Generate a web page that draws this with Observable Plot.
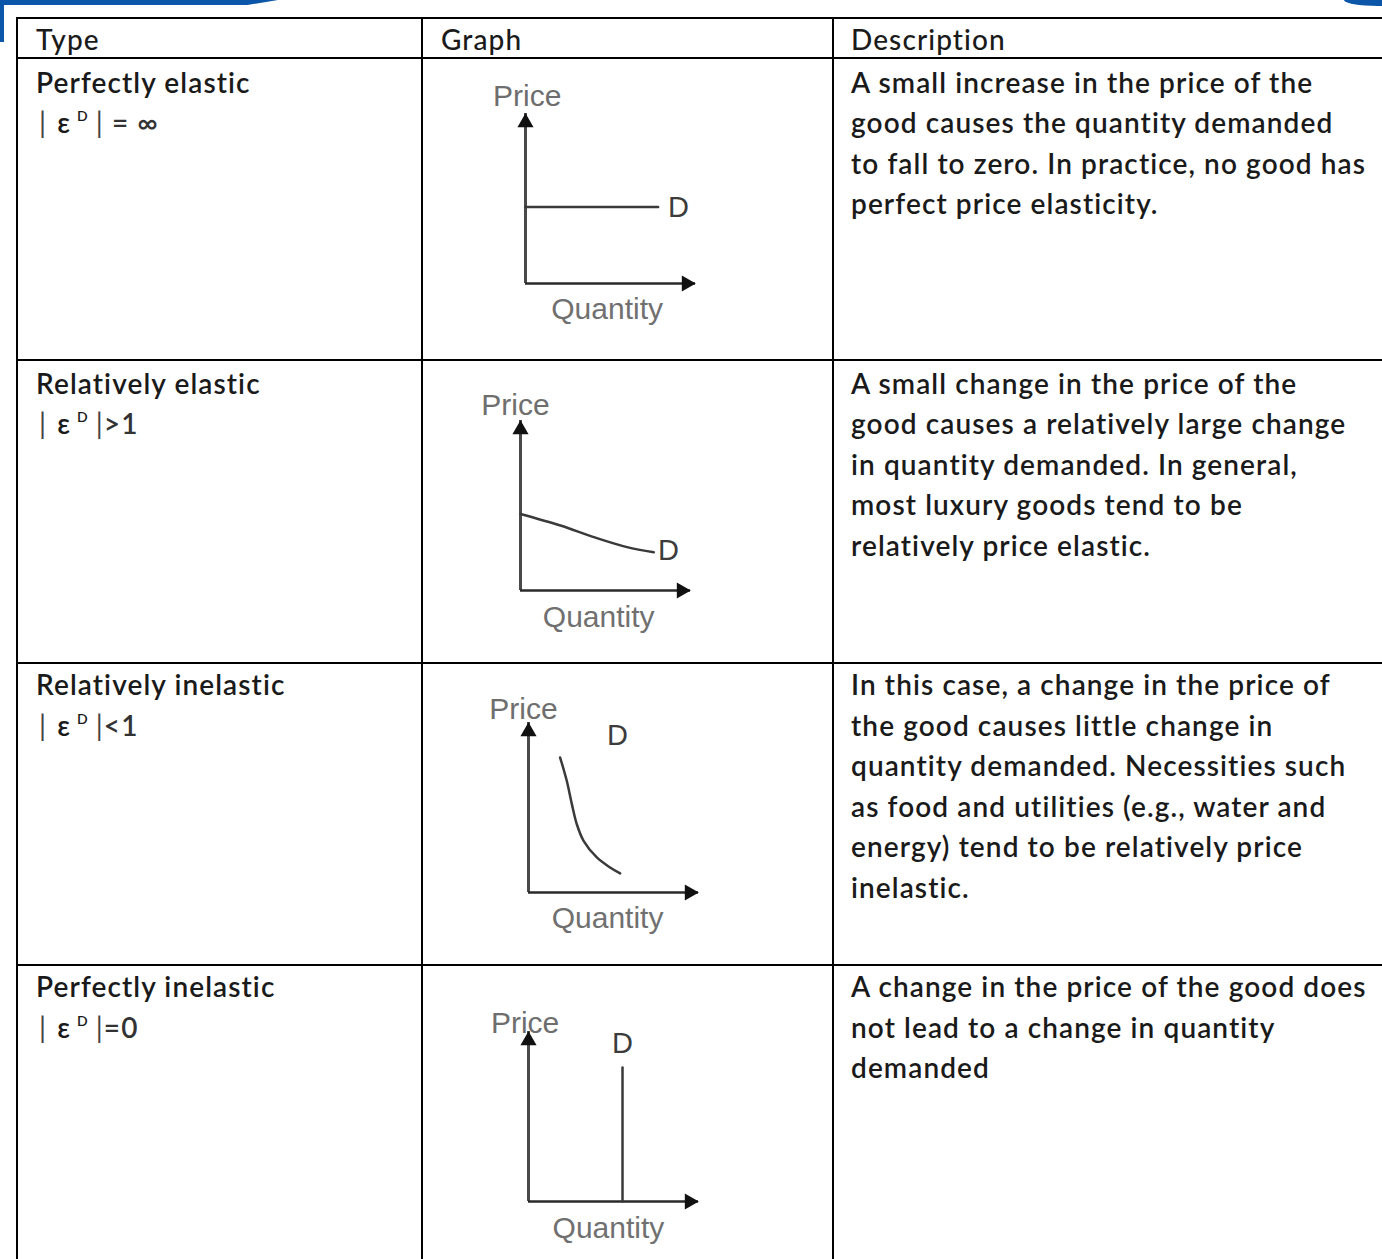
<!DOCTYPE html>
<html>
<head>
<meta charset="utf-8">
<script src="https://cdn.jsdelivr.net/npm/d3@7"></script>
<script src="https://cdn.jsdelivr.net/npm/@observablehq/plot@0.6"></script>
<style>
html, body { margin: 0; padding: 0; background: #fff; }
body { width: 1382px; height: 1259px; overflow: hidden; position: relative;
       font-family: Lato, "Noto Sans", sans-serif; color: #1a1a1a; }
.blue-tl { position: absolute; left: 0; top: 0; width: 278px; height: 5px; background: #0b56a8;
           clip-path: polygon(0 0, 100% 0, 89% 100%, 0 100%); }
.blue-left { position: absolute; left: 0; top: 0; width: 4px; height: 42px; background: #0b56a8; }
.blue-tr { position: absolute; right: 0; top: 0; width: 38px; height: 6px; background: #0b56a8;
           border-bottom-left-radius: 34px 6px; }
#table { position: absolute; left: 16px; top: 17px; display: grid;
         grid-template-columns: 405px 411px 590px;
         grid-template-rows: 40px 302px 303px 302px 330px; }
.cell { box-sizing: border-box; border-left: 2px solid #000; border-top: 2px solid #000;
        font-size: 28px; font-weight: 600; letter-spacing: 1.1px; line-height: 40.6px; white-space: nowrap; }
.c1 { padding-left: 18px; }
.c2 { padding-left: 18px; }
.c3 { padding-left: 17px; }
.head { line-height: 38px; padding-top: 1px; font-weight: 500; }
.cond { padding-left: 3px; }
.cond .bar { color: #444; font-weight: 400; }
.cond .eps { margin-left: 10px; }
.cond sup { font-size: 14px; vertical-align: 12px; line-height: 0; margin-left: 6px; margin-right: 7px; }
.cond .rest { color: #333; }
.graph { position: absolute; left: 423px; }
</style>
</head>
<body>
<div class="blue-tl"></div>
<div class="blue-left"></div>
<div class="blue-tr"></div>
<div id="table"></div>
<script>
// ---- table text ----
const headers = ["Type", "Graph", "Description"];
const types = ["Perfectly elastic", "Relatively elastic", "Relatively inelastic", "Perfectly inelastic"];
const conditions = ["\u00a0=\u00a0\u221e", ">1", "<1", "=0"];
const descriptions = [
  ["A small increase in the price of the",
   "good causes the quantity demanded",
   "to fall to zero. In practice, no good has",
   "perfect price elasticity."],
  ["A small change in the price of the",
   "good causes a relatively large change",
   "in quantity demanded. In general,",
   "most luxury goods tend to be",
   "relatively price elastic."],
  ["In this case, a change in the price of",
   "the good causes little change in",
   "quantity demanded. Necessities such",
   "as food and utilities (e.g., water and",
   "energy) tend to be relatively price",
   "inelastic."],
  ["A change in the price of the good does",
   "not lead to a change in quantity",
   "demanded"]
];

// ---- graph data (quantity q, price p in abstract units; axes run 0..10) ----
const perfectlyElastic = [{q: 0, p: 4.5}, {q: 7.8, p: 4.5}];
const relativelyElastic = [
  {q: 0, p: 4.5}, {q: 2.35, p: 3.82}, {q: 4.31, p: 3.14}, {q: 6.27, p: 2.55}, {q: 7.84, p: 2.25}
];
const relativelyInelastic = [
  {q: 1.86, p: 7.94}, {q: 2.25, p: 6.57}, {q: 2.55, p: 5.2}, {q: 2.84, p: 4.02},
  {q: 3.24, p: 3.04}, {q: 4.02, p: 2.06}, {q: 4.8, p: 1.47}, {q: 5.39, p: 1.12}
];
const perfectlyInelastic = [{q: 5.53, p: 0}, {q: 5.53, p: 7.88}];
const demandCurves = [perfectlyElastic, relativelyElastic, relativelyInelastic, perfectlyInelastic];

// label anchors (in the same units)
const priceLabels = [{q: 0.1, p: 11.0}, {q: -0.3, p: 10.9}, {q: -0.3, p: 10.8}, {q: -0.2, p: 10.5}];
const quantityLabels = [{q: 4.8, p: -1.5}, {q: 4.6, p: -1.6}, {q: 4.65, p: -1.55}, {q: 4.7, p: -1.6}];
const dLabels = [{q: 9.0, p: 4.47}, {q: 8.7, p: 2.35}, {q: 5.24, p: 9.24}, {q: 5.53, p: 9.3}];

// ---- layout (pixels) ----
const rowTops = [59, 361, 664, 966];
const origins = [[102, 224], [97, 229], [105, 228], [105, 235]];
const rowPad = [2.5, 1.5, 0, 0];
const unitPx = 17;

// build table
const table = document.getElementById("table");
function cell(cls, html, style) {
  const d = document.createElement("div");
  d.className = "cell " + cls;
  d.innerHTML = html;
  if (style) d.setAttribute("style", style);
  table.appendChild(d);
  return d;
}
headers.forEach((h, i) => cell("head c" + (i + 1), h));
types.forEach((t, i) => {
  const pad = "padding-top:" + rowPad[i] + "px";
  cell("c1", "<div>" + t + "</div><div class='cond'><span class='bar'>|</span><span class='eps'>\u03b5</span><sup>D</sup><span class='bar'>|</span><span class='rest'>" + conditions[i] + "</span></div>", pad);
  cell("c2", "", pad);
  cell("c3", descriptions[i].map(l => "<div>" + l + "</div>").join(""), pad);
});

// graphs
demandCurves.forEach((curve, i) => {
  const [ox, oy] = origins[i];
  const plot = Plot.plot({
    width: 409,
    height: 300,
    margin: 0,
    x: {domain: [0, 10], range: [ox, ox + 10 * unitPx], axis: null},
    y: {domain: [0, 10], range: [oy, oy - 10 * unitPx], axis: null},
    style: {background: "transparent", overflow: "visible", fontFamily: "'Liberation Sans', Arial, sans-serif"},
    marks: [
      Plot.ruleX([0], {y1: 0, y2: 10, stroke: "#4a4a4a", strokeWidth: 3}),
      Plot.ruleY([0], {x1: 0, x2: 10, stroke: "#2a2a2a", strokeWidth: 2.5}),
      Plot.dot([{q: 0, p: 10}], {x: "q", y: "p", symbol: "triangle", r: 6, fill: "#111", stroke: "none", dy: 9}),
      Plot.dot([{q: 10, p: 0}], {x: "q", y: "p", symbol: "triangle", r: 6, fill: "#111", stroke: "none", rotate: 90, dx: -9}),
      Plot.line(curve, {x: "q", y: "p", curve: "catmull-rom", stroke: "#3a3a3a", strokeWidth: 2.5}),
      Plot.text([priceLabels[i]], {x: "q", y: "p", text: () => "Price", fontSize: 30, fill: "#6e6e6e"}),
      Plot.text([quantityLabels[i]], {x: "q", y: "p", text: () => "Quantity", fontSize: 30, fill: "#707070"}),
      Plot.text([dLabels[i]], {x: "q", y: "p", text: () => "D", fontSize: 29, fill: "#3c3c3c"})
    ]
  });
  plot.classList.add("graph");
  plot.style.top = rowTops[i] + "px";
  document.body.appendChild(plot);
});
</script>
</body>
</html>
